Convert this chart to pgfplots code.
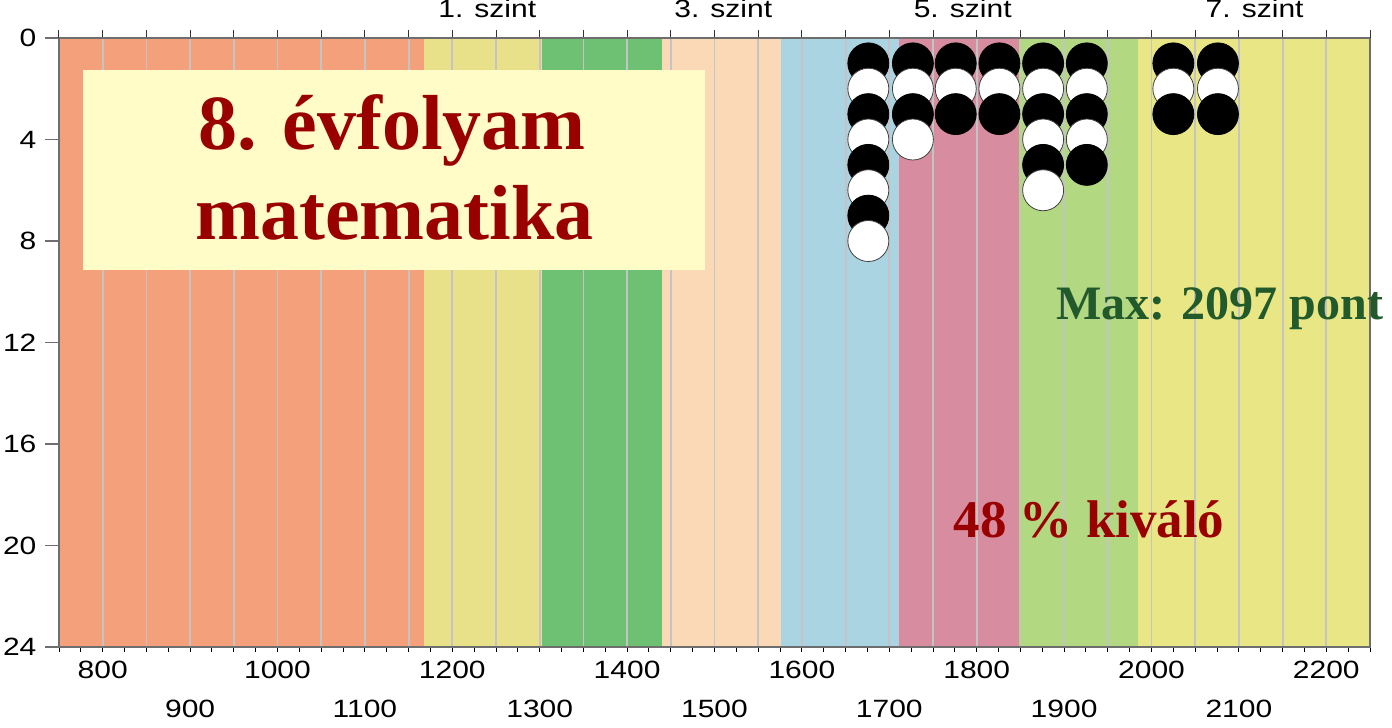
\documentclass[border=0pt]{standalone}
\usepackage{fontspec}
\usepackage{pgfplots}
\pgfplotsset{compat=1.18}
\usepackage{pgfplotstable}
\setmainfont{Liberation Sans}
\newfontfamily\tickfont[FakeStretch=1.2]{Liberation Sans}
\newfontfamily\titlefont{Liberation Serif}

\definecolor{bOrange}{RGB}{244,160,122}
\definecolor{bYellow}{RGB}{232,225,138}
\definecolor{bGreen}{RGB}{110,192,114}
\definecolor{bPeach}{RGB}{251,216,182}
\definecolor{bBlue}{RGB}{170,212,225}
\definecolor{bPink}{RGB}{216,140,160}
\definecolor{bLGreen}{RGB}{179,216,130}
\definecolor{bYellowB}{RGB}{232,230,133}
\definecolor{boxY}{RGB}{255,252,200}
\definecolor{dred}{RGB}{153,0,0}
\definecolor{dgreen}{RGB}{34,90,44}
\definecolor{gridc}{RGB}{196,196,196}
\definecolor{axc}{RGB}{110,110,110}

\pgfplotstableread{
x y c
1676 1 b
1676 2 w
1676 3 b
1676 4 w
1676 5 b
1676 6 w
1676 7 b
1676 8 w
1727 1 b
1727 2 w
1727 3 b
1727 4 w
1776 1 b
1776 2 w
1776 3 b
1826 1 b
1826 2 w
1826 3 b
1876 1 b
1876 2 w
1876 3 b
1876 4 w
1876 5 b
1876 6 w
1926 1 b
1926 2 w
1926 3 b
1926 4 w
1926 5 b
2025 1 b
2025 2 w
2025 3 b
2076 1 b
2076 2 w
2076 3 b
}\dots

\pgfplotsset{
  common/.style={
    at={(0,0)}, anchor=south west,
    scale only axis, width=655.5pt, height=304.5pt,
    xmin=750, xmax=2250, ymin=0, ymax=24, y dir=reverse,
    scaled x ticks=false,
    /pgf/number format/assume math mode=true,
    /pgf/number format/1000 sep={},
    tick label style={font=\tickfont\fontsize{12.5}{14}\selectfont, black},
    tick align=outside,
  }
}

\begin{document}
\begin{tikzpicture}
% main axis
\begin{axis}[common,
  set layers=standard,
  clip=false,
  axis line style={axc, line width=0.7pt},
  xtick={750,775,...,2250},
  xticklabels={},
  xtick pos=bottom,
  major x tick style={/pgfplots/major tick length=2.5pt, black, line width=0.5pt},
  minor xtick={750,800,...,2250},
  minor x tick style={/pgfplots/minor tick length=0pt},
  xminorgrids=true,
  minor grid style={gridc, line width=0.9pt},
  extra x ticks={800,1000,...,2200},
  extra x tick labels={800,1000,1200,1400,1600,1800,2000,2200},
  extra x tick style={xticklabel style={yshift=1pt}},
  ytick={0,4,...,24},
  ytick pos=left,
  yticklabel style={xshift=-3.5pt},
  major y tick style={/pgfplots/major tick length=7pt, axc, line width=0.7pt},
]
\addplot[fill=bOrange, draw=none, on layer=axis background] coordinates {(750,0) (1168,0) (1168,24) (750,24)} -- cycle;
\addplot[fill=bYellow, draw=none, on layer=axis background] coordinates {(1168,0) (1303,0) (1303,24) (1168,24)} -- cycle;
\addplot[fill=bGreen, draw=none, on layer=axis background] coordinates {(1303,0) (1440,0) (1440,24) (1303,24)} -- cycle;
\addplot[fill=bPeach, draw=none, on layer=axis background] coordinates {(1440,0) (1576,0) (1576,24) (1440,24)} -- cycle;
\addplot[fill=bBlue, draw=none, on layer=axis background] coordinates {(1576,0) (1711,0) (1711,24) (1576,24)} -- cycle;
\addplot[fill=bPink, draw=none, on layer=axis background] coordinates {(1711,0) (1848,0) (1848,24) (1711,24)} -- cycle;
\addplot[fill=bLGreen, draw=none, on layer=axis background] coordinates {(1848,0) (1984,0) (1984,24) (1848,24)} -- cycle;
\addplot[fill=bYellowB, draw=none, on layer=axis background] coordinates {(1984,0) (2250,0) (2250,24) (1984,24)} -- cycle;

\fill[boxY] (axis cs:777,1.26) rectangle (axis cs:1489,9.14);
\node[anchor=base, text=dred, font=\titlefont\bfseries\fontsize{39}{39}\selectfont] at (axis cs:1131,4.41) {8. évfolyam};
\node[anchor=base, text=dred, font=\titlefont\bfseries\fontsize{39}{39}\selectfont] at (axis cs:1134,7.96) {matematika};
\node[anchor=base, text=dgreen, font=\titlefont\bfseries\fontsize{24}{24}\selectfont] at (axis cs:2078,11.11) {Max: 2097 pont};
\node[anchor=base, text=dred, font=\titlefont\bfseries\fontsize{26.5}{26.5}\selectfont] at (axis cs:1928.5,19.70) {48 \% kiváló};

\addplot[scatter, only marks, scatter src=explicit symbolic,
  scatter/classes={
    b={mark=*, mark size=10.25pt, fill=black, draw=black, line width=0.4pt},
    w={mark=*, mark size=10.25pt, fill=white, draw=black!75, line width=0.4pt}}]
  table[x=x, y=y, meta=c] {\dots};

\node[anchor=base, font=\tickfont\fontsize{12.5}{14}\selectfont] at (axis cs:1240,0) [yshift=10pt] {1. szint};
\node[anchor=base, font=\tickfont\fontsize{12.5}{14}\selectfont] at (axis cs:1510,0) [yshift=10pt] {3. szint};
\node[anchor=base, font=\tickfont\fontsize{12.5}{14}\selectfont] at (axis cs:1784,0) [yshift=10pt] {5. szint};
\node[anchor=base, font=\tickfont\fontsize{12.5}{14}\selectfont] at (axis cs:2118,0) [yshift=10pt] {7. szint};
\end{axis}

% top ticks
\begin{axis}[common,
  hide y axis,
  axis x line*=top,
  x axis line style={axc, line width=0.7pt},
  xtick={750,800,...,2250},
  xticklabels={},
  major x tick style={/pgfplots/major tick length=4pt, black!80, line width=0.5pt},
]
\end{axis}

% second row of x labels
\begin{axis}[common,
  hide y axis,
  axis x line*=bottom,
  x axis line style={draw=none},
  xtick={900,1100,...,2100},
  major x tick style={draw=none},
  xticklabel style={yshift=-18.5pt},
]
\end{axis}

\pgfresetboundingbox
\path[use as bounding box] (-29.5pt,-40.5pt) rectangle (666.5pt,323.5pt);
\end{tikzpicture}
\end{document}
